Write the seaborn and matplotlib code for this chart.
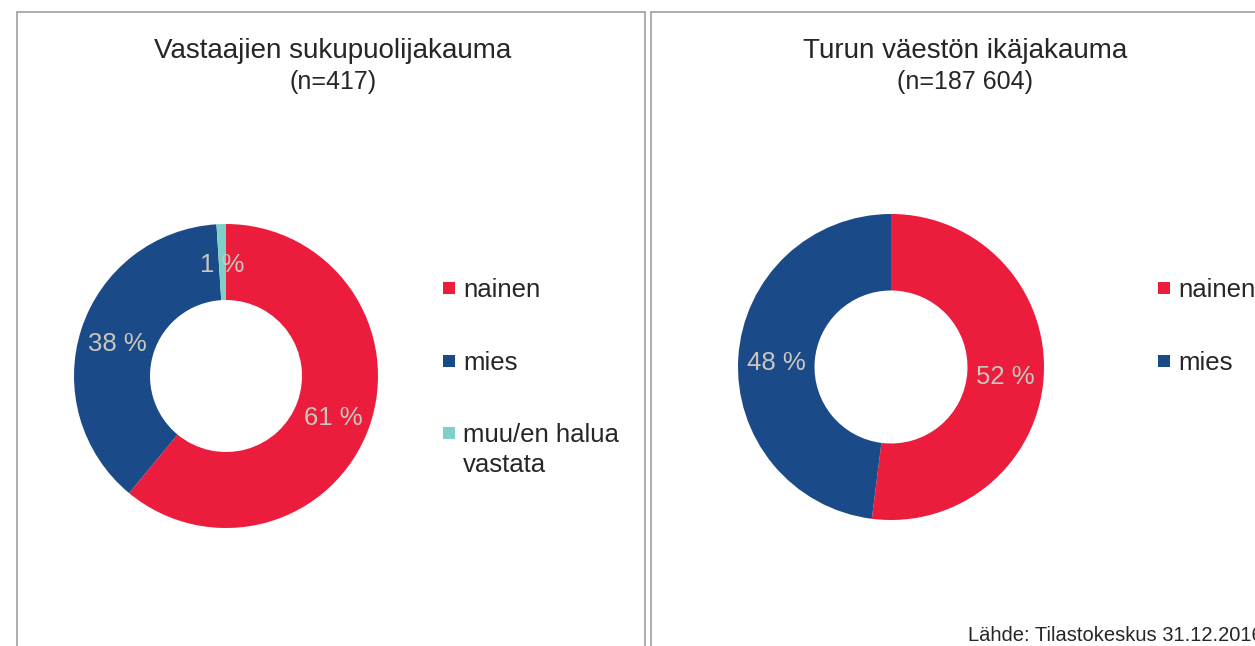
import matplotlib.pyplot as plt
import seaborn as sns
from matplotlib.lines import Line2D
from matplotlib.patches import Rectangle

W, H = 1255, 646

# data
left_labels = ["nainen", "mies", "muu/en halua\nvastata"]
left_values = [61, 38, 1]
right_labels = ["nainen", "mies"]
right_values = [52, 48]
colors = ["#EC1C3C", "#1B4A88", "#7FD0C8"]

sns.set_style("white")
plt.rcParams["font.family"] = ["Liberation Sans", "DejaVu Sans"]

fig = plt.figure(figsize=(W / 100, H / 100), dpi=100)


def px_axes(cx, cy, r):
    return fig.add_axes([(cx - r) / W, 1 - (cy + r) / H, 2 * r / W, 2 * r / H])


def donut(ax, values, labels, leg_x, leg_y):
    pal = sns.color_palette(colors[:len(values)])
    wedges, _, pcts = ax.pie(
        values, colors=pal,
        startangle=90, counterclock=False, radius=1,
        autopct="%.0f %%", pctdistance=0.75,
        wedgeprops=dict(width=0.5, linewidth=0),
        textprops=dict(color="#c9c6bd", fontsize=18.5),
    )
    for t in pcts:
        x, y = t.get_position()
        t.set_position((x, y - 0.02))
    ax.set_xlim(-1, 1)
    ax.set_ylim(-1, 1)
    # legend, drawn by hand so wrapped labels line up like the original
    for i, (lab, col) in enumerate(zip(labels, pal)):
        yc = leg_y + i * 72.5
        fig.add_artist(Rectangle((leg_x / W, 1 - (yc + 6) / H), 12 / W, 12 / H,
                                 transform=fig.transFigure, color=col, lw=0))
        fig.text((leg_x + 20) / W, 1 - (yc - 10) / H, lab, ha="left",
                 va="top", fontsize=18.5, color="#262626",
                 linespacing=1.33)


ax1 = px_axes(226, 376, 152)
donut(ax1, left_values, left_labels, 443, 288)
ax2 = px_axes(891, 367, 153)
donut(ax2, right_values, right_labels, 1158, 288)

# titles
fig.text(333 / W, 1 - 48 / H, "Vastaajien sukupuolijakauma",
         ha="center", va="center_baseline", fontsize=20, color="#262626")
fig.text(333 / W, 1 - 79 / H, "(n=417)",
         ha="center", va="center_baseline", fontsize=18, color="#262626")
fig.text(965 / W, 1 - 48 / H, "Turun väestön ikäjakauma",
         ha="center", va="center_baseline", fontsize=20, color="#262626")
fig.text(965 / W, 1 - 79 / H, "(n=187 604)",
         ha="center", va="center_baseline", fontsize=18, color="#262626")
fig.text(968 / W, 1 - 641 / H, "Lähde: Tilastokeskus 31.12.2016",
         ha="left", va="baseline", fontsize=14.5, color="#262626")


# panel borders
def line(x0, y0, x1, y1):
    fig.add_artist(Line2D([x0 / W, x1 / W], [1 - y0 / H, 1 - y1 / H],
                          color="#a0a0a0", linewidth=1.2))


line(17, 12, 645, 12)
line(17, 12, 17, 646)
line(645, 12, 645, 646)
line(651, 12, 1255, 12)
line(651, 12, 651, 646)

fig.savefig("out.png", dpi=100)
